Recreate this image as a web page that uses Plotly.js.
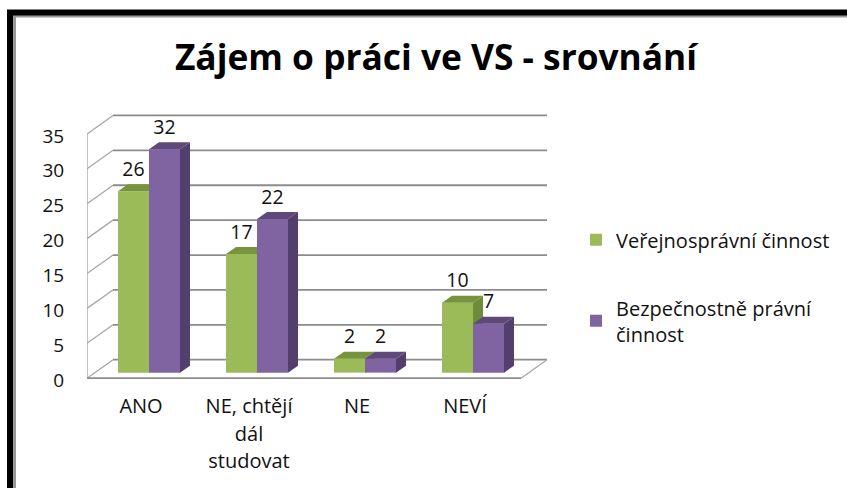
<!DOCTYPE html>
<html><head><meta charset="utf-8">
<script src="https://cdn.plot.ly/plotly-3.0.1.min.js"></script>
<style>html,body{margin:0;padding:0;background:#fff;overflow:hidden}#c{width:847px;height:488px}</style>
</head><body><div id="c"></div>
<script>
const categories = ['ANO', 'NE, chtějí<br>dál<br>studovat', 'NE', 'NEVÍ'];
const seriesNames = ['Veřejnosprávní činnost', 'Bezpečnostně právní<br>činnost'];
const verejne = [26, 17, 2, 10];
const bezpecnost = [32, 22, 2, 7];
const axisTicks = [0, 5, 10, 15, 20, 25, 30, 35];

const W = 847, H = 488;
const m = {l: 87, r: 300, t: 112.55, b: 107.2};
const xRange = [-0.574, 3.685], yRange = [-1.2, 37.2];
const barW = 0.287, barDx = 0.0926, barDy = 1.0;
const wallDx = 0.241, wallDy = 2.65, floorY = -0.8, labelShift = -0.074, tickDrop = 0.28;
const FONT = '"Open Sans","Noto Sans",sans-serif';
const xs = categories.map((_, i) => i);

function faces(vals, off) {
  const side = {x: [], y: []}, top = {x: [], y: []};
  vals.forEach((v, i) => {
    const l = i + off, r = l + barW;
    side.x.push(r, r + barDx, r + barDx, r, r, null);
    side.y.push(0, barDy, v + barDy, v, 0, null);
    top.x.push(l, r, r + barDx, l + barDx, l, null);
    top.y.push(v, v, v + barDy, v + barDy, v, null);
  });
  return {side, top};
}
function poly(p, color, ax) {
  return {type: 'scatter', mode: 'lines', x: p.x, y: p.y, fill: 'toself', fillcolor: color,
    line: {width: 0, color: color}, xaxis: 'x' + ax, yaxis: 'y' + ax, showlegend: false, hoverinfo: 'skip'};
}
function seriesTraces(vals, name, off, ax, front, sideC, topC) {
  const f = faces(vals, off);
  return [
    {type: 'bar', x: xs, y: vals, name: name, width: barW, offset: off, marker: {color: front, line: {width: 0}},
     xaxis: 'x' + ax, yaxis: 'y' + ax, legendgroup: name, hovertemplate: '%{y}<extra></extra>'},
    poly(f.side, sideC, ax), poly(f.top, topC, ax)
  ];
}
function gridLine(xa, ya, color, w) {
  return {type: 'scatter', mode: 'lines', x: xa, y: ya, line: {color: color, width: w},
    showlegend: false, hoverinfo: 'skip', cliponaxis: false};
}
const backRight = xRange[1];
const frontLeft = xRange[0];
const gx = [], gy = [], dx = [], dy = [];
axisTicks.forEach(t => {
  gx.push(frontLeft + wallDx, backRight, null);
  gy.push(t + floorY + wallDy, t + floorY + wallDy, null);
  dx.push(frontLeft, frontLeft + wallDx, null);
  dy.push(t + floorY, t + floorY + wallDy, null);
});
const labelFont = {family: FONT, size: 19.5, color: '#111'};
const traces = [
  gridLine(gx, gy, '#8c8c8c', 1.8),
  gridLine(dx, dy, '#a6a6a6', 1.3),
  gridLine([frontLeft, frontLeft], [floorY, axisTicks[axisTicks.length - 1] + floorY], '#a6a6a6', 1.3),
  gridLine([frontLeft, backRight - wallDx], [floorY, floorY], '#8c8c8c', 1.8),
  gridLine([backRight - wallDx, backRight], [floorY, floorY + wallDy], '#a6a6a6', 1.3),
  ...seriesTraces(verejne, seriesNames[0], -barW, 2, '#9BBB59', '#6f8b3a', '#77933C'),
  ...seriesTraces(bezpecnost, seriesNames[1], 0, 3, '#8064A2', '#533F6D', '#5F497A'),
  {type: 'scatter', mode: 'text', x: xs.map(i => i - barW / 2), y: verejne.map(v => v + barDy + 0.5), text: verejne.map(String),
   textposition: 'top center', textfont: labelFont, showlegend: false, hoverinfo: 'skip',
   xaxis: 'x3', yaxis: 'y3', cliponaxis: false},
  {type: 'scatter', mode: 'text', x: xs.map(i => i + barW / 2), y: bezpecnost.map(v => v + barDy + 0.5), text: bezpecnost.map(String),
   textposition: 'top center', textfont: labelFont, showlegend: false, hoverinfo: 'skip',
   xaxis: 'x3', yaxis: 'y3', cliponaxis: false}
];

const plotW = W - m.l - m.r, plotH = H - m.t - m.b;
const px = p => (p - m.l) / plotW, py = p => 1 - (p - m.t) / plotH;
function rect(x0, y0, x1, y1, c) {
  return {type: 'rect', xref: 'paper', yref: 'paper', x0: px(x0), x1: px(x1), y0: py(y0), y1: py(y1),
    fillcolor: c, line: {width: 0}, layer: 'below'};
}
const hidden = a => ({range: a, visible: false, fixedrange: true});
const layout = {
  width: W, height: H, margin: m, paper_bgcolor: '#fff', plot_bgcolor: 'rgba(0,0,0,0)',
  font: {family: FONT, color: '#111'},
  title: {text: 'Zájem o práci ve VS - srovnání', x: 436 / W, xanchor: 'center', y: 1 - 58 / H, yanchor: 'middle',
    font: {family: FONT, size: 35.3, color: '#000', weight: 700}},
  xaxis: {range: xRange, tickmode: 'array', tickvals: xs.map(i => i + labelShift),
    ticktext: categories.map(c => c.split('<br>').map(s => '<span style="font-size:20px">' + s + '</span>').join('<br>')),
    tickfont: {family: FONT, size: 21, color: '#111'}, ticks: 'outside', ticklen: 6, tickcolor: 'rgba(0,0,0,0)',
    showgrid: false, zeroline: false, showline: false, fixedrange: true},
  yaxis: {range: yRange, tickmode: 'array', tickvals: axisTicks.map(t => t + floorY - tickDrop), ticktext: axisTicks.map(String),
    tickfont: {family: FONT, size: 19, color: '#111'}, ticks: 'outside', ticklen: 18, tickcolor: 'rgba(0,0,0,0)',
    showgrid: false, zeroline: false, showline: false, fixedrange: true},
  xaxis2: {...hidden(xRange), overlaying: 'x', anchor: 'y2'},
  yaxis2: {...hidden(yRange), overlaying: 'y', anchor: 'x2'},
  xaxis3: {...hidden(xRange), overlaying: 'x', anchor: 'y3'},
  yaxis3: {...hidden(yRange), overlaying: 'y', anchor: 'x3'},
  barmode: 'overlay',
  legend: {x: px(590), xanchor: 'left', y: py(220), yanchor: 'top', bgcolor: 'rgba(0,0,0,0)',
    font: {family: FONT, size: 20, color: '#111'}, tracegroupgap: 39, indentation: -14, traceorder: 'grouped'},
  shapes: [
    rect(7, 9, W, 488, '#000'),
    rect(13, 15, W, 488, '#999'),
    rect(16, 17, W, 488, '#fff')
  ]
};
Plotly.newPlot('c', traces, layout, {displayModeBar: false, responsive: false});
</script></body></html>
